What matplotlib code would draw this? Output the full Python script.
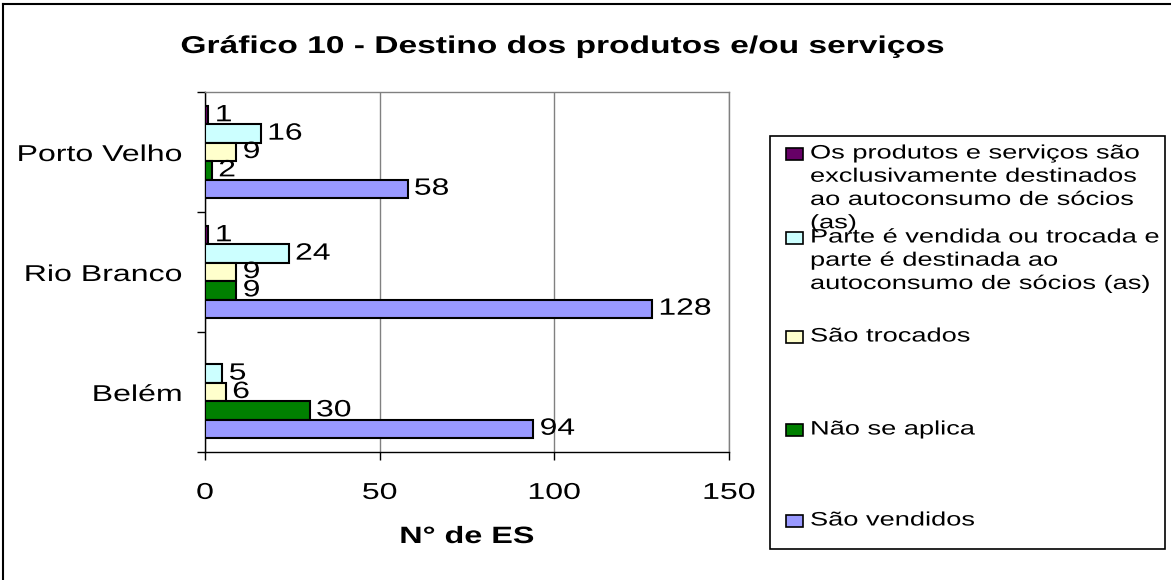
import numpy as np
import matplotlib
matplotlib.use('Agg')
import matplotlib.pyplot as plt
from matplotlib.patches import Rectangle
from matplotlib.lines import Line2D
from matplotlib.patheffects import AbstractPathEffect
from matplotlib.transforms import Affine2D

# ---------------- data ----------------
categories = ['Belém', 'Rio Branco', 'Porto Velho']
series_names = [
    'Os produtos e serviços são\nexclusivamente destinados\nao autoconsumo de sócios\n(as)',
    'Parte é vendida ou trocada e\nparte é destinada ao\nautoconsumo de sócios (as)',
    'São trocados',
    'Não se aplica',
    'São vendidos',
]
autoconsumo = [np.nan, 1, 1]
parte_vendida = [5, 24, 16]
trocados = [6, 9, 9]
nao_se_aplica = [30, 9, 2]
vendidos = [94, 128, 58]
series_values = [autoconsumo, parte_vendida, trocados, nao_se_aplica, vendidos]
series_colors = ['#660066', '#CCFFFF', '#FFFFCC', '#008000', '#9999FF']
xticks = [0, 50, 100, 150]
title = 'Gráfico 10 - Destino dos produtos e/ou serviços'
xlabel = 'N° de ES'

plt.rcParams['font.family'] = ['Liberation Sans', 'DejaVu Sans']


class HStretch(AbstractPathEffect):
    """Stretch text horizontally about an anchor (left/center/right)."""
    def __init__(self, sx, anchor='left'):
        super().__init__()
        self.sx = sx
        self.anchor = anchor

    def draw_path(self, renderer, gc, tpath, affine, rgbFace=None):
        ext = tpath.get_extents()
        if self.anchor == 'left':
            a = 0.0
        elif self.anchor == 'right':
            a = ext.x1
        else:
            a = 0.5 * (ext.x0 + ext.x1)
        t = Affine2D().translate(-a, 0).scale(self.sx, 1).translate(a, 0)
        renderer.draw_path(gc, tpath, t + affine, rgbFace)


S = 1.4
W, H = 1171, 580
fig = plt.figure(figsize=(W / 100, H / 100), dpi=100)
fig.patch.set_facecolor('white')


def fx(x):
    return x / W


def fy(y):
    return 1 - y / H


ax = fig.add_axes([fx(205), fy(452), (729 - 205) / W, (452 - 92) / H])

ypos = np.arange(len(categories))
bh = 0.153
nser = len(series_values)
for i, (vals, color) in enumerate(zip(series_values, series_colors)):
    v = np.array(vals, dtype=float)
    y = ypos + (nser // 2 - i) * bh
    m = ~np.isnan(v)
    ax.barh(y[m], v[m], height=bh, color=color, edgecolor='black',
            linewidth=1.5, zorder=3)
    for yy, vv in zip(y[m], v[m]):
        t = ax.annotate(f'{vv:g}', (vv, yy), xytext=(4.5, 0),
                        textcoords='offset points', ha='left', va='center',
                        fontsize=17, color='black', zorder=4)
        t.set_path_effects([HStretch(1.35, 'left')])

ax.set_xlim(0, 150)
ax.set_ylim(-0.5, len(categories) - 0.5)
ax.set_xticks(xticks)
ax.set_xticklabels([str(x) for x in xticks])
ax.set_yticks(ypos)
ax.set_yticklabels(categories)
ax.set_yticks(np.arange(len(categories) + 1) - 0.5, minor=True)
ax.tick_params(axis='y', which='major', length=0, pad=16.6, labelsize=16.5)
ax.tick_params(axis='y', which='minor', length=5.8, width=1,
               direction='out', color='black')
ax.tick_params(axis='x', which='major', length=5.8, width=1,
               direction='out', color='black', pad=15, labelsize=16.5)
ax.xaxis.grid(True, color='#808080', linewidth=1)
ax.set_axisbelow(True)
for s in ['left', 'bottom']:
    ax.spines[s].set_color('black')
    ax.spines[s].set_linewidth(1)
for s in ['top', 'right']:
    ax.spines[s].set_color('#808080')
    ax.spines[s].set_linewidth(1)

for lbl in ax.get_yticklabels():
    lbl.set_path_effects([HStretch(S, 'right')])
for lbl in ax.get_xticklabels():
    lbl.set_path_effects([HStretch(S, 'center')])

# title and axis label
tt = fig.text(fx(562.5), fy(53), title, ha='center', va='baseline',
              fontsize=17.5, fontweight='bold')
tt.set_path_effects([HStretch(1.38, 'center')])
xl = fig.text(fx(467), fy(543), xlabel, ha='center', va='baseline',
              fontsize=17, fontweight='bold')
xl.set_path_effects([HStretch(1.37, 'center')])

# chart-area border (left and top visible)
fig.add_artist(Line2D([fx(3.5), fx(3.5)], [fy(3.5), fy(580)],
                      transform=fig.transFigure, color='black', lw=1.5))
fig.add_artist(Line2D([fx(3.5), fx(1171)], [fy(3.5), fy(3.5)],
                      transform=fig.transFigure, color='black', lw=1.5))

# legend (drawn manually to follow the reference layout)
fig.add_artist(Rectangle((fx(770), fy(549)), (1165 - 770) / W, (549 - 136) / H,
                         transform=fig.transFigure, fill=False,
                         edgecolor='black', linewidth=1.2))
baselines = [160, 244, 343, 436, 527]
for name, color, b in zip(series_names, series_colors, baselines):
    fig.add_artist(Rectangle((fx(786), fy(b)), 17 / W, 12 / H,
                             transform=fig.transFigure, facecolor=color,
                             edgecolor='black', linewidth=1.2))
    lt = fig.text(fx(810), fy(b - 14.5), name, ha='left', va='top',
                  fontsize=14, linespacing=1.48)
    lt.set_path_effects([HStretch(S, 'left')])

fig.savefig('out.png', dpi=100)
